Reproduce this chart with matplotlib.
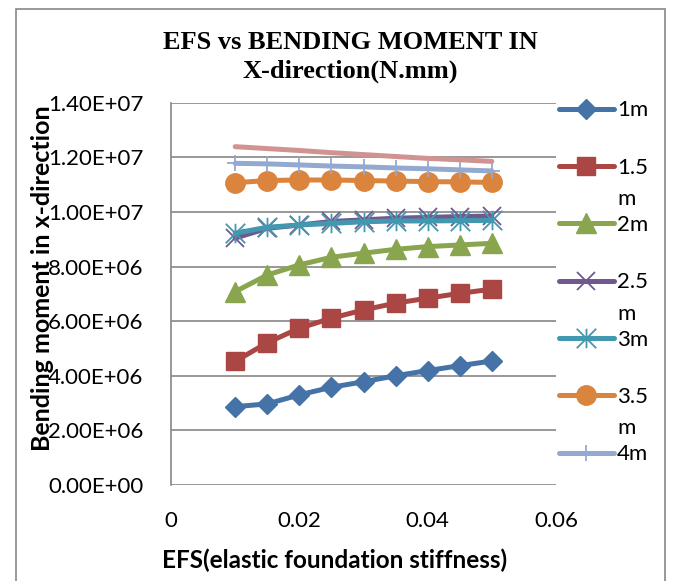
import matplotlib.pyplot as plt
from matplotlib.path import Path
from matplotlib.patches import Rectangle
from matplotlib.ticker import FuncFormatter

# EFS values (x) and bending moment in x-direction per span length
efs = [0.01, 0.015, 0.02, 0.025, 0.03, 0.035, 0.04, 0.045, 0.05]
bm_1m = [2.87e6, 2.97e6, 3.30e6, 3.58e6, 3.78e6, 4.00e6, 4.19e6, 4.37e6, 4.54e6]
bm_15m = [4.53e6, 5.21e6, 5.74e6, 6.11e6, 6.41e6, 6.66e6, 6.84e6, 7.02e6, 7.17e6]
bm_2m = [7.08e6, 7.69e6, 8.06e6, 8.34e6, 8.49e6, 8.63e6, 8.73e6, 8.79e6, 8.85e6]
bm_25m = [9.04e6, 9.40e6, 9.52e6, 9.65e6, 9.71e6, 9.77e6, 9.80e6, 9.83e6, 9.85e6]
bm_3m = [9.22e6, 9.44e6, 9.52e6, 9.58e6, 9.64e6, 9.67e6, 9.67e6, 9.68e6, 9.69e6]
bm_35m = [11.07e6, 11.15e6, 11.17e6, 11.17e6, 11.15e6, 11.13e6, 11.11e6, 11.10e6, 11.08e6]
bm_4m = [11.78e6, 11.76e6, 11.72e6, 11.68e6, 11.65e6, 11.61e6, 11.58e6, 11.54e6, 11.50e6]
bm_45m = [12.39e6, 12.32e6, 12.25e6, 12.17e6, 12.10e6, 12.03e6, 11.96e6, 11.91e6, 11.85e6]

labels = ["1m", "1.5", "2m", "2.5", "3m", "3.5", "4m"]
wrapped = {"1.5": "m", "2.5": "m", "3.5": "m"}

x_ticks = [0, 0.02, 0.04, 0.06]
x_tick_labels = ["0", "0.02", "0.04", "0.06"]
y_ticks = [0, 2e6, 4e6, 6e6, 8e6, 10e6, 12e6, 14e6]

GRID = "#868686"
TICK_FONT = "Lato"

asterisk = Path(
    [(0, -1), (0, 1), (-1, -1), (1, 1), (-1, 1), (1, -1)],
    [Path.MOVETO, Path.LINETO] * 3,
)

W, H = 675, 581
fig = plt.figure(figsize=(W / 100, H / 100), dpi=100)
fig.patch.set_facecolor("white")

# chart frame (bottom edge runs off the picture)
fig.patches.append(Rectangle((16 / W, -0.05), (665 - 16) / W, 1.05 - 9 / H,
                             transform=fig.transFigure, fill=False,
                             edgecolor="#878787", linewidth=1.2))

ax = fig.add_axes([171 / W, 1 - 485 / H, (556 - 171) / W, (485 - 102.7) / H])

lw = 3.6
mew = 1.3
series = [
    (bm_1m, "#4572A7", dict(marker="D", ms=10)),
    (bm_15m, "#AA4643", dict(marker="s", ms=13.5)),
    (bm_2m, "#89A54E", dict(marker="^", ms=14)),
    (bm_25m, "#71588F", dict(marker="x", ms=13, mew=mew)),
    (bm_3m, "#4198AF", dict(marker=asterisk, ms=14, mew=mew)),
    (bm_35m, "#DB843D", dict(marker="o", ms=14)),
    (bm_4m, "#93A9CF", dict(marker="+", ms=12, mew=mew)),
]
for (vals, col, mk), lab in zip(series, labels):
    ax.plot(efs, vals, color=col, lw=lw, mfc=col, mec=col, label=lab,
            solid_capstyle="round", solid_joinstyle="round", **mk)
ax.plot(efs, bm_45m, color="#D19392", lw=lw, label="_nolegend_",
        solid_capstyle="round")

ax.set_xlim(0, 0.06)
ax.set_ylim(0, 1.4e7)
ax.set_xticks(x_ticks)
ax.set_xticklabels(x_tick_labels)
ax.set_yticks(y_ticks)
ax.yaxis.set_major_formatter(FuncFormatter(lambda v, p: "{:.2E}".format(v)))
ax.grid(axis="y", color=GRID, linewidth=1.2)
ax.set_axisbelow(True)
for s in ["top", "right", "bottom"]:
    ax.spines[s].set_visible(False)
ax.spines["left"].set_color(GRID)
ax.spines["left"].set_linewidth(1.2)
ax.tick_params(axis="both", length=0, labelsize=16)
ax.tick_params(axis="y", pad=20)
ax.tick_params(axis="x", pad=19)
for t in ax.get_xticklabels() + ax.get_yticklabels():
    t.set_fontfamily(TICK_FONT)

ax.set_xlabel("EFS(elastic foundation stiffness)", fontsize=17.5,
              fontweight="bold", fontfamily="Lato")
ax.xaxis.set_label_coords((335 - 171) / 385, (485 - 560) / 382.3)
ax.xaxis.label.set_va("center")
ax.set_ylabel("Bending moment in x-direction", fontsize=18,
              fontweight="bold", fontfamily="Lato")
ax.yaxis.set_label_coords((43 - 171) / 385, (485 - 278) / 382.3)
ax.yaxis.label.set_va("center")

fig.text(350 / W, 1 - 57 / H, "EFS vs BENDING MOMENT IN\nX-direction(N.mm)",
         ha="center", va="center", fontsize=19, fontweight="bold",
         fontfamily="Liberation Serif", linespacing=1.35)

leg = ax.legend(loc="upper left", bbox_to_anchor=(559 / W, 1 - 100.5 / H),
                bbox_transform=fig.transFigure, frameon=False, borderpad=0,
                borderaxespad=0, handlelength=2.47, handletextpad=0.14,
                labelspacing=1.68, prop={"family": "Lato", "size": 16})

fig.canvas.draw()
renderer = fig.canvas.get_renderer()
for txt in leg.get_texts():
    extra = wrapped.get(txt.get_text())
    if extra:
        bb = txt.get_window_extent(renderer)
        fig.text(bb.x0 / W, (bb.y0 + bb.y1) / 2 / H - 31 / H, extra,
                 ha="left", va="center", fontsize=16, fontfamily="Lato")

fig.savefig("out.png", dpi=100)
